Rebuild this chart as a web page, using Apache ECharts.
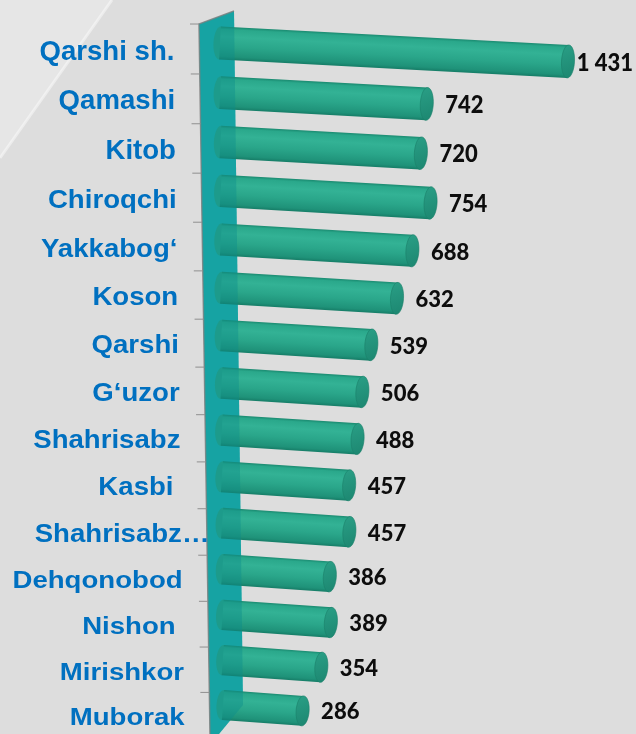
<!DOCTYPE html>
<html>
<head>
<meta charset="utf-8">
<script src="https://cdn.jsdelivr.net/npm/echarts@6/dist/echarts.min.js"></script>
<style>
  html, body { margin: 0; padding: 0; background: #dddddd; }
  #chart { width: 636px; height: 734px; }
</style>
</head>
<body>
<div id="chart"></div>
<script>
// Districts, top to bottom
const categories = [
  'Qarshi sh.', 'Qamashi', 'Kitob', 'Chiroqchi', 'Yakkabog‘', 'Koson', 'Qarshi',
  'G‘uzor', 'Shahrisabz', 'Kasbi ', 'Shahrisabz…', 'Dehqonobod', 'Nishon ',
  'Mirishkor', 'Muborak'
];
// Value per district
const values = [1431, 742, 720, 754, 688, 632, 539, 506, 488, 457, 457, 386, 389, 354, 286];
// Value axis range; longer bars are cut at the end of the axis
const axisMin = 0;
const axisMax = 1250;

const W = 636;
const N = categories.length;

// Perspective helpers: rows get slightly closer together further down,
// bars tilt down to the right, the side wall leans.
const BOW = 0.1837;
function rowShift(i) { return BOW * i * (N - 1 - i); }
function rowCentre(api, i) { return api.coord([axisMin, i])[1] + rowShift(i); }
function wallTop(cs) { return cs.y - 26; }
function wallLeftX(cs, y) { return cs.x - 21 + 11 * (y - wallTop(cs)) / 710; }

const measureCtx = document.createElement('canvas').getContext('2d');
function textWidth(str, font) { measureCtx.font = font; return measureCtx.measureText(str).width; }

function ellipsePts(cx, cy, rx, ry) {
  const pts = [];
  for (let k = 0; k < 36; k++) {
    const a = (k / 36) * Math.PI * 2;
    pts.push([cx + rx * Math.cos(a), cy + ry * Math.sin(a)]);
  }
  return pts;
}

function fmt(v) { return String(v).replace(/\B(?=(\d{3})+(?!\d))/g, ' '); }

const bodyFill = {
  type: 'linear', x: 0, y: 0, x2: 0, y2: 1,
  colorStops: [
    { offset: 0, color: '#1a8a70' },
    { offset: 0.08, color: '#2aa88b' },
    { offset: 0.3, color: '#33b295' },
    { offset: 0.6, color: '#2aa68a' },
    { offset: 0.9, color: '#1f9279' },
    { offset: 1, color: '#167d67' }
  ]
};
const capFill = {
  type: 'linear', x: 0, y: 0, x2: 1, y2: 1,
  colorStops: [
    { offset: 0, color: '#2a9f86' },
    { offset: 1, color: '#1c8670' }
  ]
};

// Geometry of one bar in screen space
function barGeom(params, api) {
  const i = params.dataIndex;
  const v = api.value(0);
  const t = i / (N - 1);
  const start = api.coord([axisMin, i]);
  const end = api.coord([Math.min(v, axisMax), i]);
  const x0 = start[0] + 3 * t;
  const y0 = rowCentre(api, i) - (7 + 4 * t);
  const dx = end[0] - start[0];
  const slope = 0.053 + 0.021 * t;
  const r = 16.5 - 1.5 * t;
  return { i, v, t, x0, y0, dx, slope, r, rx: 6.5 };
}

function renderBar(params, api) {
  const g = barGeom(params, api);
  const ang = Math.atan(g.slope);
  const len = g.dx / Math.cos(ang);
  return {
    type: 'group', x: g.x0, y: g.y0, rotation: -ang,
    children: [
      { type: 'polygon', shape: { points: ellipsePts(0, 0, g.rx, g.r) }, style: { fill: '#2aa58a' } },
      { type: 'rect', shape: { x: 0, y: -g.r, width: len, height: 2 * g.r }, style: { fill: bodyFill } },
      { type: 'polygon', shape: { points: ellipsePts(len, 0, g.rx, g.r) },
        style: { fill: capFill, stroke: '#1a8069', lineWidth: 0.6 } }
    ]
  };
}

function wallShape(cs) {
  const gx = cs.x;
  const top = wallTop(cs);
  return [
    [gx - 21, top], [gx + 14, top - 13], [gx + 23, top + 681],
    [gx - 6, top + 716], [wallLeftX(cs, top + 716), top + 716]
  ];
}

function renderWallBase(params, api) {
  const cs = params.coordSys;
  const pts = wallShape(cs);
  return {
    type: 'group',
    children: [
      { type: 'polygon', shape: { points: pts }, style: { fill: '#1fb2b2' } },
      { type: 'polyline', shape: { points: [pts[4], pts[0], pts[1]] },
        style: { stroke: '#8c8c8c', lineWidth: 1.5, fill: null } }
    ]
  };
}

function renderWallOverlay(params, api) {
  const cs = params.coordSys;
  return { type: 'polygon', shape: { points: wallShape(cs) },
           style: { fill: 'rgba(10,140,140,0.4)' } };
}

const catFont = 'bold 27.6px "Liberation Sans", Arial, sans-serif';
const valFont = '900 22px Lato, "Open Sans", sans-serif';

function renderLabels(params, api) {
  const cs = params.coordSys;
  const g = barGeom(params, api);
  const i = g.i;
  const yc = rowCentre(api, i);
  const prev = i > 0 ? rowCentre(api, i - 1) : 2 * yc - rowCentre(api, i + 1);
  const tickY = yc - 0.5 * (yc - prev) - 1;
  const tickX = wallLeftX(cs, tickY);

  const name = categories[i];
  let right = wallLeftX(cs, yc) - 25;
  if (name.endsWith('…')) right += textWidth('…', catFont);

  const xe = g.x0 + g.dx;
  const ye = g.y0 + g.slope * g.dx;
  const label = fmt(g.v);
  const lw = textWidth(label, valFont);
  const lx = Math.min(xe + g.rx + 12, W - 3 - lw);

  return {
    type: 'group',
    children: [
      { type: 'line', shape: { x1: tickX - 9, y1: tickY, x2: tickX, y2: tickY },
        style: { stroke: '#8f8f8f', lineWidth: 1 } },
      { type: 'text', x: right, y: yc + 2, scaleY: 0.99 - 0.12 * g.t,
        style: { text: name, font: catFont, fill: '#0070c0', align: 'right', verticalAlign: 'middle' } },
      { type: 'text', x: lx, y: ye + 1.5, scaleY: 1.1 - 0.1 * g.t,
        style: { text: label, font: valFont, fill: '#0d0d0d', align: 'left', verticalAlign: 'middle' } }
    ]
  };
}

const seriesData = values.map((v, i) => [v, i]);

const option = {
  backgroundColor: '#dddddd',
  animation: false,
  graphic: [
    { type: 'polygon', z: -10, shape: { points: [[0, 0], [112, 0], [0, 158]] }, style: { fill: '#e6e6e6' } },
    { type: 'line', z: -9, shape: { x1: 0, y1: 158, x2: 112, y2: 0 },
      style: { stroke: 'rgba(255,255,255,0.45)', lineWidth: 3 } }
  ],
  // category centres sit on the grid's top and bottom edges (boundaryGap: false)
  grid: { left: 220, top: 50, width: 348, height: 666 },
  xAxis: { type: 'value', min: axisMin, max: axisMax, show: false },
  yAxis: { type: 'category', data: categories, inverse: true, boundaryGap: false, show: false },
  series: [
    { type: 'custom', z: 1, renderItem: renderWallBase, data: [[0, 0]], encode: { x: 0, y: 1 }, silent: true },
    { type: 'custom', z: 2, renderItem: renderBar, data: seriesData, encode: { x: 0, y: 1 } },
    { type: 'custom', z: 3, renderItem: renderWallOverlay, data: [[0, 0]], encode: { x: 0, y: 1 }, silent: true },
    { type: 'custom', z: 4, renderItem: renderLabels, data: seriesData, encode: { x: 0, y: 1 } }
  ]
};

const chart = echarts.init(document.getElementById('chart'));
chart.setOption(option);
</script>
</body>
</html>
